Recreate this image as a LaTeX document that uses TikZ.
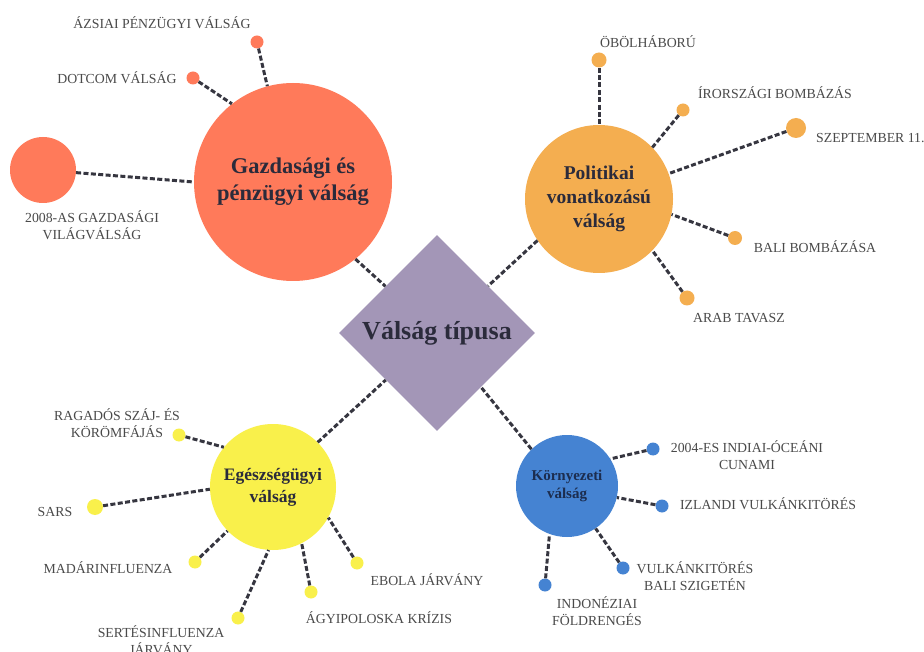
\documentclass[tikz,border=0pt]{standalone}
\usepackage{fontspec}
\setmainfont{Liberation Serif}
\usetikzlibrary{shapes.geometric}
\definecolor{cred}{HTML}{FF7A5A}
\definecolor{corange}{HTML}{F4AE50}
\definecolor{cyellow}{HTML}{F9F04B}
\definecolor{cblue}{HTML}{4583D2}
\definecolor{cdia}{HTML}{A396B7}
\definecolor{titlec}{HTML}{2B2B3B}
\definecolor{navyc}{HTML}{1C2D4F}
\definecolor{labelc}{HTML}{4A4A4A}
\definecolor{linec}{HTML}{363640}
\tikzset{
  conn/.style={draw=linec, line width=3pt, dash pattern=on 5pt off 2.4pt},
  hub/.style={circle, inner sep=0pt, align=center, text=titlec},
  dotnode/.style={circle, inner sep=0pt, minimum size=13pt},
  lbl/.style={font=\fontsize{13.8}{16.5}\selectfont, text=labelc, align=center, inner sep=0pt}
}
\begin{document}
\begin{tikzpicture}[x=1pt, y=-1pt]
\useasboundingbox (0,0) rectangle (924,652);
\fill[white] (0,0) rectangle (924,652);

% central diamond
\node[diamond, shape aspect=1, fill=cdia, minimum width=196pt, minimum height=196pt, inner sep=0pt,
      text=titlec, font=\bfseries\fontsize{26}{30}\selectfont] (dia) at (437,333) {Válság típusa};

% hubs
\node[hub, fill=cred, minimum size=198pt, font=\bfseries\fontsize{22.5}{27}\selectfont] (red) at (293,182) {Gazdasági és\\pénzügyi válság};
\node[hub, fill=corange, minimum size=148pt, font=\bfseries\fontsize{19.5}{24}\selectfont] (ora) at (599,199) {Politikai\\vonatkozású\\válság};
\node[hub, fill=cyellow, minimum size=126pt, font=\bfseries\fontsize{17.5}{22}\selectfont] (yel) at (273,487) {Egészségügyi\\válság};
\node[hub, fill=cblue, minimum size=102pt, text=navyc, font=\bfseries\fontsize{15}{18}\selectfont] (blu) at (567,486) {Környezeti\\válság};

% hub to diamond
\draw[conn] (red.309) -- (dia);
\draw[conn] (ora.214) -- (dia);
\draw[conn] (yel.45) -- (dia);
\draw[conn] (blu.134) -- (dia);

% red leaves
\node[circle, fill=cred, minimum size=66pt, inner sep=0pt] (r2008) at (43,170) {};
\node[dotnode, fill=cred] (rdot) at (193,78) {};
\node[dotnode, fill=cred] (razs) at (257,42) {};
\draw[conn] (r2008) -- (red.180);
\draw[conn] (rdot) -- (red.128);
\draw[conn] (razs) -- (red.105);
\node[lbl] (l2008) at (92,225) {2008-AS GAZDASÁGI\\VILÁGVÁLSÁG};
\node[lbl] (ldot) at (117,78) {DOTCOM VÁLSÁG};
\node[lbl] (lazs) at (162,23) {ÁZSIAI PÉNZÜGYI VÁLSÁG};

% orange leaves
\node[dotnode, fill=corange, minimum size=15pt] (oob) at (599,60) {};
\node[dotnode, fill=corange] (oir) at (683,110) {};
\node[dotnode, fill=corange, minimum size=20pt] (osz) at (796,128) {};
\node[dotnode, fill=corange, minimum size=14pt] (oba) at (735,238) {};
\node[dotnode, fill=corange, minimum size=15pt] (oar) at (687,298) {};
\draw[conn] (oob) -- (ora.90);
\draw[conn] (oir) -- (ora.44);
\draw[conn] (osz) -- (ora.20);
\draw[conn] (oba) -- (ora.-12);
\draw[conn] (oar) -- (ora.-44);
\node[lbl] (lob) at (648,42) {ÖBÖLHÁBORÚ};
\node[lbl] (lir) at (775,93) {ÍRORSZÁGI BOMBÁZÁS};
\node[lbl, anchor=west] (lsz) at (816,138) {SZEPTEMBER 11.};
\node[lbl] (lba) at (815,247) {BALI BOMBÁZÁSA};
\node[lbl] (lar) at (739,318) {ARAB TAVASZ};

% yellow leaves
\node[dotnode, fill=cyellow] (yra) at (179,435) {};
\node[dotnode, fill=cyellow, minimum size=16pt] (ysa) at (95,507) {};
\node[dotnode, fill=cyellow] (yma) at (195,562) {};
\node[dotnode, fill=cyellow] (yse) at (238,618) {};
\node[dotnode, fill=cyellow] (yag) at (311,592) {};
\node[dotnode, fill=cyellow] (yeb) at (357,563) {};
\draw[conn] (yra) -- (yel.141);
\draw[conn] (ysa) -- (yel.182);
\draw[conn] (yma) -- (yel.224);
\draw[conn] (yse) -- (yel.266);
\draw[conn] (yag) -- (yel.297);
\draw[conn] (yeb) -- (yel.331);
\node[lbl] (lra) at (117,423) {RAGADÓS SZÁJ- ÉS\\KÖRÖMFÁJÁS};
\node[lbl] (lsa) at (55,512) {SARS};
\node[lbl] (lma) at (108,568) {MADÁRINFLUENZA};
\node[lbl] (lse) at (161,640) {SERTÉSINFLUENZA\\JÁRVÁNY};
\node[lbl] (lag) at (379,618) {ÁGYIPOLOSKA KRÍZIS};
\node[lbl] (leb) at (427,580) {EBOLA JÁRVÁNY};

% blue leaves
\node[dotnode, fill=cblue] (bcu) at (653,449) {};
\node[dotnode, fill=cblue] (biz) at (662,506) {};
\node[dotnode, fill=cblue] (bvu) at (623,568) {};
\node[dotnode, fill=cblue] (bin) at (545,585) {};
\draw[conn] (bcu) -- (blu.32);
\draw[conn] (biz) -- (blu.-13);
\draw[conn] (bvu) -- (blu.-56);
\draw[conn] (bin) -- (blu.250);
\node[lbl] (lcu) at (747,455) {2004-ES INDIAI-ÓCEÁNI\\CUNAMI};
\node[lbl] (liz) at (768,504) {IZLANDI VULKÁNKITÖRÉS};
\node[lbl] (lvu) at (695,576) {VULKÁNKITÖRÉS\\BALI SZIGETÉN};
\node[lbl] (lin) at (597,611) {INDONÉZIAI\\FÖLDRENGÉS};
\end{tikzpicture}
\end{document}
